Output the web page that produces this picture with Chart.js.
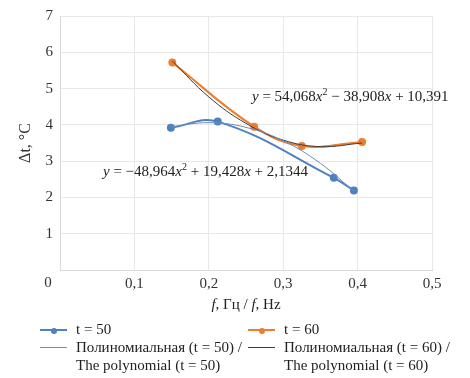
<!DOCTYPE html>
<html>
<head>
<meta charset="utf-8">
<script src="https://cdn.jsdelivr.net/npm/chart.js@4.4.0/dist/chart.umd.min.js"></script>
<style>
  body { margin: 0; background: #fff; }
  #wrap { position: relative; width: 470px; height: 378px; font-family: "Liberation Serif", serif; }
  #legend { position: absolute; left: 0; top: 320px; width: 470px; font-size: 15px; color: #222; }
  .item { position: absolute; white-space: nowrap; line-height: 18px; }
  .mark { position: absolute; top: 9px; height: 0; width: 27px; }
  .dot { position: absolute; left: 11px; top: -3px; width: 6px; height: 6px; border-radius: 50%; }
</style>
</head>
<body>
<div id="wrap">
  <canvas id="chart" width="470" height="378"></canvas>
  <div id="legend"></div>
</div>
<script>
// measured points
const x50 = [0.149, 0.212, 0.368, 0.395];
const y50 = [3.92, 4.09, 2.54, 2.19];
const x60 = [0.151, 0.261, 0.325, 0.406];
const y60 = [5.72, 3.95, 3.42, 3.53];

// trend curves
const xTrend50 = [0.149, 0.2, 0.25, 0.3, 0.35, 0.395];
const yTrend50 = [3.95, 4.06, 3.93, 3.56, 2.94, 2.17];
const xTrend60 = [0.151, 0.2, 0.25, 0.3, 0.35, 0.406];
const yTrend60 = [5.76, 4.77, 4.04, 3.58, 3.40, 3.50];

const xTicks = ['0', '0,1', '0,2', '0,3', '0,4', '0,5'];
const yTicks = ['0', '1', '2', '3', '4', '5', '6', '7'];

const labels = ['t = 50', 't = 60', 'Полиномиальная (t = 50) /\nThe polynomial (t = 50)', 'Полиномиальная (t = 60) /\nThe polynomial (t = 60)'];
const colors = ['#4f81bd', '#ed7d31', '#6a8fc0', '#3b3b3b'];

const eq60 = [['y', 'i'], [' = 54,068', 'n'], ['x', 'i'], ['2', 's'], [' \u2212 38,908', 'n'], ['x', 'i'], [' + 10,391', 'n']];
const eq50 = [['y', 'i'], [' = \u221248,964', 'n'], ['x', 'i'], ['2', 's'], [' + 19,428', 'n'], ['x', 'i'], [' + 2,1344', 'n']];
const xTitle = [['f', 'i'], [', Гц / ', 'n'], ['f', 'i'], [', Hz', 'n']];

function pts(xs, ys) {
  return xs.map((x, i) => ({ x: x, y: ys[i] }));
}

const FONT = '"Liberation Serif", serif';

function setFont(ctx, kind) {
  if (kind === 'i') ctx.font = 'italic 15px ' + FONT;
  else if (kind === 's') ctx.font = '10px ' + FONT;
  else ctx.font = '15px ' + FONT;
}

function drawRich(ctx, parts, x, y, center) {
  ctx.fillStyle = '#222';
  ctx.textBaseline = 'alphabetic';
  ctx.textAlign = 'left';
  if (center) {
    let w = 0;
    parts.forEach((p) => { setFont(ctx, p[1]); w += ctx.measureText(p[0]).width; });
    x -= w / 2;
  }
  parts.forEach((p) => {
    setFont(ctx, p[1]);
    const dy = p[1] === 's' ? -6 : 0;
    ctx.fillText(p[0], x, y + dy);
    x += ctx.measureText(p[0]).width;
  });
}

const extras = {
  id: 'extras',
  afterDatasetsDraw(chart) {
    const ctx = chart.ctx;
    const a = chart.chartArea;
    ctx.save();
    drawRich(ctx, eq60, 252, 101, false);
    drawRich(ctx, eq50, 103, 176, false);
    drawRich(ctx, xTitle, (a.left + a.right) / 2, 309, true);
    // corner zero
    ctx.font = '15px ' + FONT;
    ctx.fillStyle = '#333';
    ctx.textAlign = 'center';
    ctx.textBaseline = 'middle';
    ctx.fillText('0', 48, 283);
    ctx.restore();
  },
};

new Chart(document.getElementById('chart'), {
  type: 'scatter',
  data: {
    datasets: [
      { label: labels[0], data: pts(x50, y50), showLine: true, borderColor: colors[0], backgroundColor: colors[0], borderWidth: 2, pointRadius: 3, tension: 0.4, order: 2 },
      { label: labels[1], data: pts(x60, y60), showLine: true, borderColor: colors[1], backgroundColor: colors[1], borderWidth: 2, pointRadius: 3, tension: 0.4, order: 2 },
      { label: labels[2], data: pts(xTrend50, yTrend50), showLine: true, borderColor: colors[2], borderWidth: 1, pointRadius: 0, tension: 0.4, order: 1 },
      { label: labels[3], data: pts(xTrend60, yTrend60), showLine: true, borderColor: colors[3], borderWidth: 1, pointRadius: 0, tension: 0.4, order: 1 },
    ],
  },
  options: {
    responsive: false,
    animation: false,
    layout: { padding: { left: 0, right: 38, top: 10, bottom: 66 } },
    plugins: { legend: { display: false }, tooltip: { enabled: false } },
    scales: {
      x: {
        type: 'linear', min: 0, max: 0.5,
        afterFit: (s) => { s.height = 42; },
        afterBuildTicks: (s) => { s.ticks = xTicks.map((t, i) => ({ value: i * 0.1 })); },
        ticks: { color: '#333', font: { family: FONT, size: 15 }, padding: 5, maxRotation: 0,
          callback: (v, i) => (i === 0 ? '' : xTicks[i]) },
        grid: { color: '#e8e8e8', drawTicks: false },
        border: { color: '#d9d9d9' },
        title: { display: false },
      },
      y: {
        min: 0, max: 7,
        afterFit: (s) => { s.width = 60; },
        ticks: { stepSize: 1, color: '#333', font: { family: FONT, size: 15 }, padding: 7,
          callback: (v) => (v === 0 ? '' : yTicks[v]) },
        grid: { color: '#e8e8e8', drawTicks: false },
        border: { color: '#d9d9d9' },
        title: { display: true, text: 'Δt, °C', color: '#333', font: { family: FONT, size: 16 }, padding: { top: 16, bottom: 0 } },
      },
    },
  },
  plugins: [extras],
});

// html legend
const legend = document.getElementById('legend');
const spots = [[40, 0], [248, 0], [40, 18], [248, 18]];
labels.forEach((lab, i) => {
  const el = document.createElement('div');
  el.className = 'item';
  el.style.left = spots[i][0] + 'px';
  el.style.top = spots[i][1] + 'px';
  const mark = document.createElement('div');
  mark.className = 'mark';
  mark.style.borderTop = (i < 2 ? 2 : 1) + 'px solid ' + colors[i];
  if (i < 2) {
    const dot = document.createElement('div');
    dot.className = 'dot';
    dot.style.background = colors[i];
    mark.appendChild(dot);
  }
  el.appendChild(mark);
  const txt = document.createElement('div');
  txt.style.marginLeft = '36px';
  txt.innerHTML = lab.replace('\n', '<br>');
  el.appendChild(txt);
  legend.appendChild(el);
});
</script>
</body>
</html>
